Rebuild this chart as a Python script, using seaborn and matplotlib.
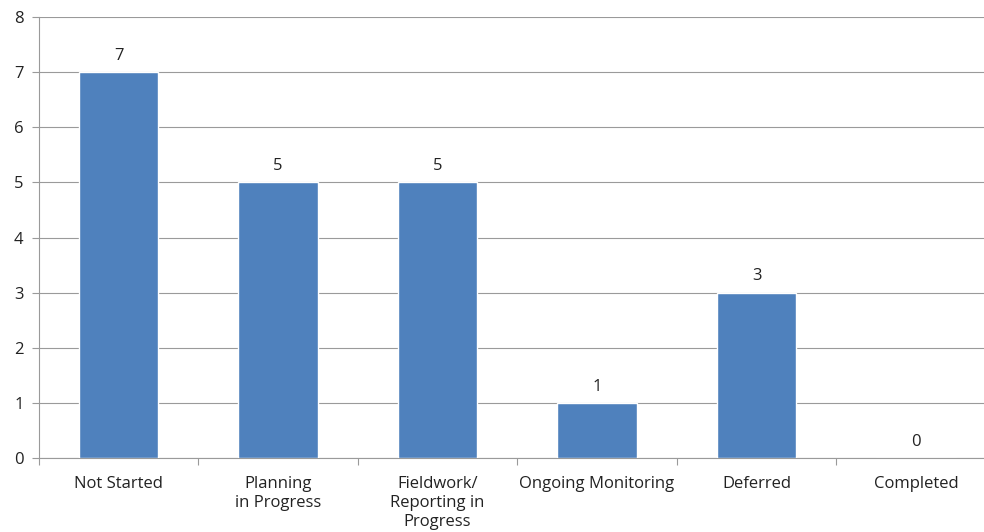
import matplotlib
matplotlib.use("Agg")
import matplotlib.pyplot as plt
import seaborn as sns
import pandas as pd
import numpy as np

categories = ["Not Started", "Planning\nin Progress", "Fieldwork/\nReporting in\nProgress",
              "Ongoing Monitoring", "Deferred", "Completed"]
counts = [7, 5, 5, 1, 3, 0]
y_ticks = [0, 1, 2, 3, 4, 5, 6, 7, 8]

sns.set_theme(style="white")
plt.rcParams['font.family'] = ['Open Sans', 'DejaVu Sans']

df = pd.DataFrame({"category": categories, "count": counts})

fig = plt.figure(figsize=(9.84, 5.32), dpi=100)
ax = fig.add_axes([0.0394, 0.139, 0.9726, 0.829])

sns.barplot(data=df, x="category", y="count", color="#4F81BD", saturation=1,
            width=0.5, ax=ax, zorder=3)

ax.set_ylim(0, 8)
ax.set_xlim(-0.5, len(categories) - 0.5)
ax.set_yticks(y_ticks)
ax.yaxis.grid(True, color="#9a9a9a", linewidth=0.8, zorder=0)
ax.set_axisbelow(True)
for s in ["top", "right"]:
    ax.spines[s].set_visible(False)
ax.spines["left"].set_color("#9a9a9a")
ax.spines["bottom"].set_color("#9a9a9a")
ax.spines["left"].set_linewidth(0.8)
ax.spines["bottom"].set_linewidth(0.8)

ax.set_xlabel("")
ax.set_ylabel("")
ax.tick_params(axis="x", which="major", length=0, pad=13, labelsize=12, labelcolor="#222222")
ax.set_xticks(np.arange(len(categories) + 1) - 0.5, minor=True)
ax.tick_params(axis="x", which="minor", length=5, color="#9a9a9a", width=0.8, bottom=True)
ax.tick_params(axis="y", length=5, color="#9a9a9a", width=0.8, left=True, labelsize=12,
               labelcolor="#222222", pad=6)

for lbl in ax.get_xticklabels():
    lbl.set_verticalalignment("top")
    lbl.set_linespacing(1.25)

for container in ax.containers:
    ax.bar_label(container, fmt="%d", padding=6, fontsize=12, color="#222222")

fig.savefig("out.png", dpi=100)
